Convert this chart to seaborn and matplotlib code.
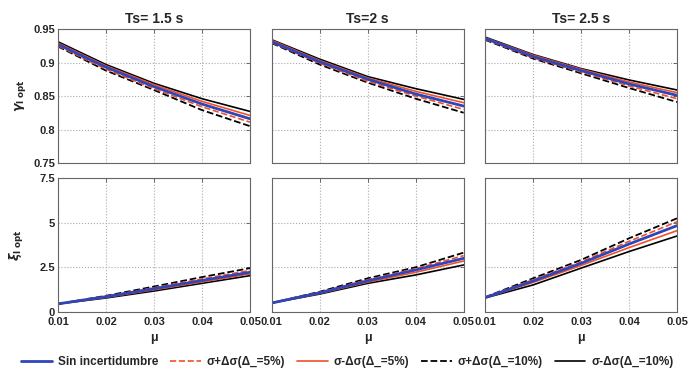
import numpy as np
import pandas as pd
import matplotlib
matplotlib.use("Agg")
import matplotlib.pyplot as plt
import seaborn as sns
from matplotlib.lines import Line2D

mu = [0.01, 0.02, 0.03, 0.04, 0.05]
titles = ["Ts= 1.5 s", "Ts=2 s", "Ts= 2.5 s"]
series_labels = ["Sin incertidumbre", "σ+Δσ(Δ_=5%)", "σ-Δσ(Δ_=5%)",
                 "σ+Δσ(Δ_=10%)", "σ-Δσ(Δ_=10%)"]

# gamma_l opt  (order: nominal, +5%, -5%, +10%, -10%)
gamma_ts15 = [
    [0.927, 0.893, 0.864, 0.838, 0.816],
    [0.925, 0.890, 0.861, 0.834, 0.811],
    [0.929, 0.895, 0.867, 0.842, 0.821],
    [0.924, 0.888, 0.859, 0.829, 0.805],
    [0.931, 0.897, 0.869, 0.846, 0.827],
]
gamma_ts2 = [
    [0.931, 0.901, 0.875, 0.853, 0.835],
    [0.930, 0.899, 0.872, 0.850, 0.830],
    [0.933, 0.903, 0.877, 0.857, 0.840],
    [0.929, 0.897, 0.870, 0.846, 0.825],
    [0.934, 0.905, 0.879, 0.861, 0.845],
]
gamma_ts25 = [
    [0.936, 0.909, 0.888, 0.868, 0.851],
    [0.935, 0.907, 0.886, 0.865, 0.846],
    [0.937, 0.911, 0.890, 0.871, 0.855],
    [0.934, 0.906, 0.884, 0.862, 0.841],
    [0.938, 0.912, 0.891, 0.874, 0.859],
]
# xi_l opt
xi_ts15 = [
    [0.45, 0.85, 1.30, 1.76, 2.22],
    [0.45, 0.87, 1.35, 1.85, 2.32],
    [0.45, 0.82, 1.24, 1.68, 2.13],
    [0.45, 0.90, 1.42, 1.95, 2.45],
    [0.45, 0.78, 1.17, 1.60, 2.03],
]
xi_ts2 = [
    [0.50, 1.07, 1.74, 2.35, 3.00],
    [0.50, 1.10, 1.80, 2.42, 3.15],
    [0.50, 1.04, 1.67, 2.22, 2.85],
    [0.50, 1.13, 1.88, 2.50, 3.32],
    [0.50, 1.00, 1.60, 2.07, 2.63],
]
xi_ts25 = [
    [0.80, 1.73, 2.72, 3.80, 4.83],
    [0.81, 1.80, 2.80, 3.95, 5.05],
    [0.79, 1.65, 2.60, 3.60, 4.55],
    [0.82, 1.88, 2.91, 4.12, 5.24],
    [0.78, 1.51, 2.45, 3.38, 4.25],
]

gamma_ticks = [0.75, 0.8, 0.85, 0.9, 0.95]
xi_ticks = [0, 2.5, 5, 7.5]
mu_ticks = [0.01, 0.02, 0.03, 0.04, 0.05]

colors = ["#2f45b8", "#f0502a", "#f0502a", "black", "black"]
styles = ["-", "--", "-", "--", "-"]
widths = [2.0, 1.2, 1.2, 1.3, 1.2]

sns.set_style("white")
plt.rcParams['font.family'] = ['Liberation Sans', 'DejaVu Sans']
plt.rcParams['font.weight'] = 'bold'

fig = plt.figure(figsize=(6.88, 3.70), dpi=100)
lefts = [0.0843, 0.395, 0.705]
width = 0.279
rows = [(0.5595, 0.362), (0.157, 0.362)]

top_data = [gamma_ts15, gamma_ts2, gamma_ts25]
bot_data = [xi_ts15, xi_ts2, xi_ts25]

def style_ax(ax, yticks, ylim, show_x, show_y):
    ax.set_xlim(0.01, 0.05)
    ax.set_ylim(*ylim)
    ax.set_xticks(mu_ticks)
    ax.set_yticks(yticks)
    ax.grid(True, linestyle=':', color='#aaaaaa', linewidth=0.8)
    ax.tick_params(direction='in', top=True, right=True, length=3,
                   labelsize=8, width=0.6, color='#555555', pad=2)
    ax.tick_params(axis='x', pad=4)
    for s in ax.spines.values():
        s.set_color('#666666')
        s.set_linewidth(0.8)
    if show_x:
        ax.set_xticklabels([f"{t:g}" for t in mu_ticks], fontweight='bold')
        ax.set_xlabel("μ", fontsize=9, fontweight='bold', labelpad=3)
    else:
        ax.set_xticklabels([])
        ax.set_xlabel("")
    if show_y:
        ax.set_yticklabels([f"{t:g}" for t in yticks], fontweight='bold')
    else:
        ax.set_yticklabels([])
    ax.set_ylabel("")

for c in range(3):
    for r, (data, yt, yl) in enumerate([(top_data, gamma_ticks, (0.75, 0.95)),
                                        (bot_data, xi_ticks, (0, 7.5))]):
        b, h = rows[r]
        ax = fig.add_axes([lefts[c], b, width, h])
        order = [4, 3, 2, 1, 0]
        for i in order:
            df = pd.DataFrame({"mu": mu, "v": data[c][i]})
            sns.lineplot(data=df, x="mu", y="v", ax=ax, color=colors[i],
                         linestyle=styles[i], linewidth=widths[i])
        style_ax(ax, yt, yl, show_x=(r == 1), show_y=(c == 0))
        if r == 0:
            ax.set_title(titles[c], fontsize=10, fontweight='bold', pad=4)
            if c == 0:
                ax.set_ylabel(r"$\gamma_{\mathrm{l\ opt}}$", fontsize=9, fontweight='bold', labelpad=4)
        else:
            if c == 0:
                ax.set_ylabel(r"$\xi_{\mathrm{l\ opt}}$", fontsize=9, fontweight='bold', labelpad=10)

handles = [Line2D([0], [0], color=colors[i], linestyle=styles[i],
                  linewidth=widths[i]) for i in range(5)]
fig.legend(handles, series_labels, loc='center', bbox_to_anchor=(0.505, 0.022),
           ncol=5, frameon=False, handlelength=2.6,
           columnspacing=1.0, handletextpad=0.5, borderaxespad=0,
           prop={'weight': 'bold', 'size': 8.5})

fig.savefig("out.png", dpi=100)
